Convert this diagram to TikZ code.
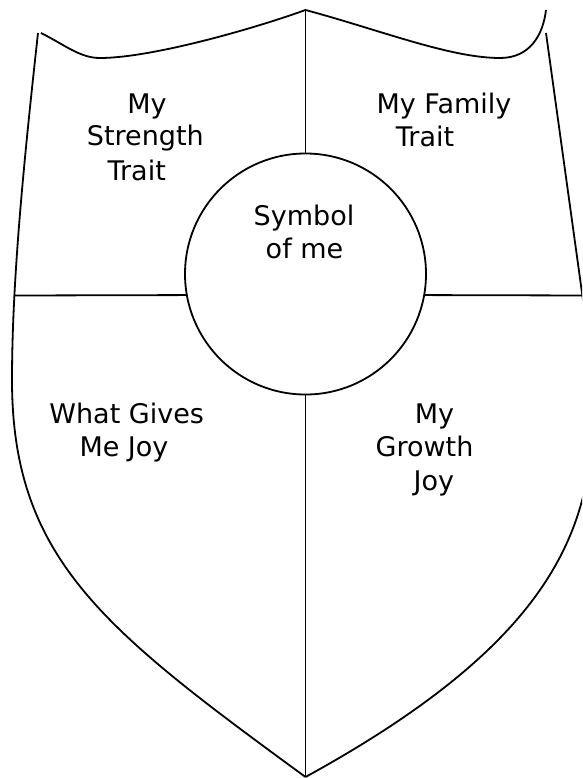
\documentclass[tikz,border=0pt]{standalone}
\usepackage{fontspec}
\setmainfont{DejaVu Sans}
\begin{document}
\begin{tikzpicture}[x=1pt,y=-1pt,
  edge/.style={line width=1.8pt,line join=round},
  lbl/.style={anchor=base,inner sep=0pt,font=\fontsize{27pt}{33pt}\selectfont}]
\clip (0,0) rectangle (582,778);
% named points
\coordinate (tl) at (41,33);
\coordinate (lt) at (38,33);
\coordinate (top) at (305.5,10);
\coordinate (tr) at (546,10);
\coordinate (rt) at (546,33);
\coordinate (bot) at (305.5,777);
\coordinate (hl) at (14,295.5);
\coordinate (hr) at (590,295.5);
% central circle
\node[draw,circle,line width=1.8pt,minimum size=241pt,inner sep=0pt] (sym) at (305.5,274) {};
% shield outline
\draw[edge] (tl) .. controls (65,45) and (80,58) .. (100,58)
  .. controls (150,58) and (250,30) .. (top)
  .. controls (380,30) and (450,58) .. (500,58)
  .. controls (530,58) and (543,35) .. (tr);
\draw[edge] (lt) .. controls (24,160) and (12,280) .. (12,380)
  .. controls (12,560) and (106,631) .. (bot);
\draw[edge] (rt) -- (583,300) .. controls (608,480) and (606,612) .. (bot);
% dividers
\draw[edge] (top) -- (sym.north);
\draw[edge] (sym.south) -- (bot);
\draw[edge] (hl) -- (sym.190.28);
\draw[edge] (sym.-10.28) -- (hr);
% labels
\node[lbl] (a1) at (147,113.3) {My};
\node[lbl] (a2) at (145.3,146) {Strength};
\node[lbl] (a3) at (136.7,180) {Trait};
\node[lbl] (b1) at (444,113.3) {My Family};
\node[lbl] (b2) at (425,146.7) {Trait};
\node[lbl] (c1) at (304,225) {Symbol};
\node[lbl] (c2) at (304.5,258.3) {of me};
\node[lbl] (d1) at (126.7,423.3) {What Gives};
\node[lbl] (d2) at (124,456.7) {Me Joy};
\node[lbl] (e1) at (434.5,423.3) {My};
\node[lbl] (e2) at (424.5,456.7) {Growth};
\node[lbl] (e3) at (433.8,490) {Joy};
\end{tikzpicture}
\end{document}
